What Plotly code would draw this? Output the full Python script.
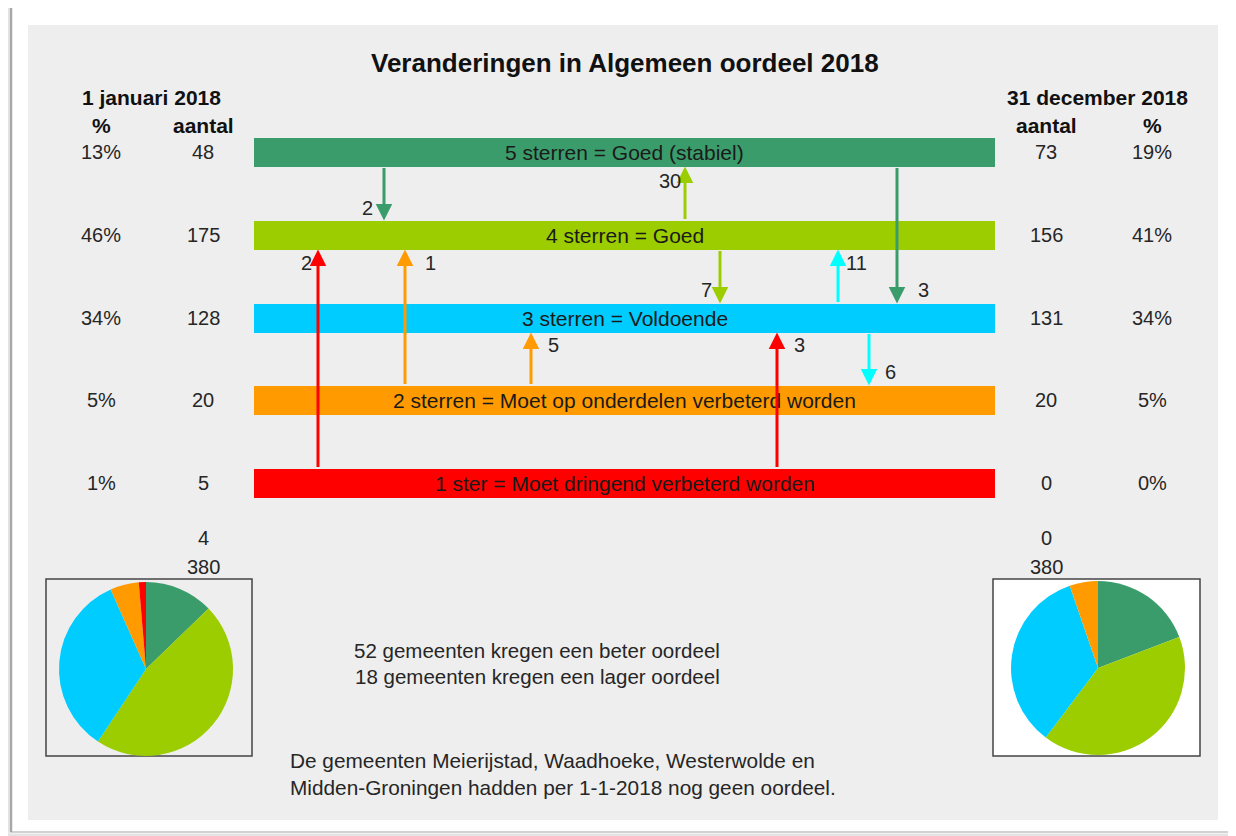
import plotly.graph_objects as go

# ---------------- data ----------------
levels = ["5 sterren = Goed (stabiel)", "4 sterren = Goed", "3 sterren = Voldoende",
          "2 sterren = Moet op onderdelen verbeterd worden", "1 ster = Moet dringend verbeterd worden"]
stars = [5, 4, 3, 2, 1]
start_count = [48, 175, 128, 20, 5]
start_pct = ["13%", "46%", "34%", "5%", "1%"]
end_count = [73, 156, 131, 20, 0]
end_pct = ["19%", "41%", "34%", "5%", "0%"]
start_none, end_none = 4, 0
start_total, end_total = 380, 380

flow_from = [5, 4, 1, 2, 4, 3, 5, 2, 1, 3]
flow_to = [4, 5, 4, 4, 3, 4, 3, 3, 3, 2]
flow_n = [2, 30, 2, 1, 7, 11, 3, 5, 3, 6]

summary = ["52 gemeenten kregen een beter oordeel", "18 gemeenten kregen een lager oordeel"]
note = ["De gemeenten Meierijstad, Waadhoeke, Westerwolde en",
        "Midden-Groningen hadden per 1-1-2018 nog geen oordeel."]

# ---------------- styles / layout ----------------
colors = {5: "#3A9C6B", 4: "#9BCD00", 3: "#00CCFF", 2: "#FF9B00", 1: "#FF0000"}
arrow_colors = {5: "#3A9C6B", 4: "#9BCD00", 3: "#00FFFF", 2: "#FF9B00", 1: "#FF0000"}
W, H = 1236, 836
OFF = 8  # default page body margin
FW, FH = W, H
FONT = "Liberation Sans, Arial, sans-serif"
TXT = "#262626"
level_y = {5: 152, 4: 235, 3: 318, 2: 400, 1: 483}
BAR_H = 29
BAR_X0, BAR_X1 = 254, 995
arrow_x = [384, 685, 318, 405, 720, 838, 897, 531, 777, 869]
label_xy = [(367, 208), (670, 181), (306, 263), (430, 263), (706, 290),
            (856, 263), (923, 290), (553, 345), (799, 345), (890, 372)]

fig = go.Figure()

# bars
fig.add_trace(go.Bar(
    y=[level_y[s] for s in stars], x=[BAR_X1 - BAR_X0] * 5, base=BAR_X0,
    orientation="h", width=BAR_H, marker=dict(color=[colors[s] for s in stars], line=dict(width=0)),
    hoverinfo="skip", showlegend=False))

ann = []
def txt(x, y, t, size=20, bold=False, color=TXT, xanchor="center"):
    ann.append(dict(x=x, y=y, xref="x", yref="y", text=f"<b>{t}</b>" if bold else t,
                    showarrow=False, xanchor=xanchor, yanchor="middle",
                    font=dict(family=FONT, size=size, color=color)))

for s, name in zip(stars, levels):
    txt((BAR_X0 + BAR_X1) / 2, level_y[s], name, size=21, color="#1a1a1a")

# flow arrows
for f, t, n, ax_, (lx, ly) in zip(flow_from, flow_to, flow_n, arrow_x, label_xy):
    if t > f:  # upward
        tail = level_y[f] - BAR_H / 2
        tip = level_y[t] + BAR_H / 2
    else:
        tail = level_y[f] + BAR_H / 2
        tip = level_y[t] - BAR_H / 2
    ann.append(dict(x=ax_, y=tip, ax=ax_, ay=tail, xref="x", yref="y", axref="x", ayref="y",
                    text="", showarrow=True, arrowhead=2, arrowsize=1.1, arrowwidth=3,
                    standoff=0, arrowcolor=arrow_colors[f]))
    txt(lx, ly, str(n), size=20)

# headers
txt(625, 63, "Veranderingen in Algemeen oordeel 2018", size=26, bold=True, color="#111")
txt(151, 97, "1 januari 2018", size=21, bold=True, color="#111")
txt(101, 125, "%", size=21, bold=True, color="#111")
txt(203, 125, "aantal", size=21, bold=True, color="#111")
txt(1097, 97, "31 december 2018", size=21, bold=True, color="#111")
txt(1046, 125, "aantal", size=21, bold=True, color="#111")
txt(1152, 125, "%", size=21, bold=True, color="#111")

for s, c, p, c2, p2 in zip(stars, start_count, start_pct, end_count, end_pct):
    y = level_y[s]
    txt(101, y, p)
    txt(203, y, str(c))
    txt(1046, y, str(c2))
    txt(1152, y, p2)

txt(203, 538, str(start_none))
txt(203, 567, str(start_total))
txt(1046, 538, str(end_none))
txt(1046, 567, str(end_total))

txt(537, 650, summary[0], size=20.5)
txt(537, 676, summary[1], size=20.5)
txt(288, 760, note[0], size=20.8, xanchor="left")
txt(288, 787, note[1], size=20.8, xanchor="left")

# pies (screen pixel -> paper fraction)
def pie_dom(cx, cy, r):
    return dict(x=[(cx - r - OFF) / FW, (cx + r - OFF) / FW],
                y=[(H + OFF - cy - r) / FH, (H + OFF - cy + r) / FH])

for vals, (cx, cy) in [(start_count, (146, 669)), (end_count, (1098, 668))]:
    fig.add_trace(go.Pie(values=vals, labels=levels, sort=False, direction="clockwise", rotation=0,
                         marker=dict(colors=[colors[s] for s in stars], line=dict(width=0)),
                         textinfo="none", hoverinfo="label+value", showlegend=False,
                         domain=pie_dom(cx, cy, 87)))

shapes = [
    # card shadow + border
    dict(type="rect", xref="x", yref="y", x0=8, y0=4, x1=1233, y1=835, line=dict(color="#e4e4e4", width=3),
         fillcolor="white", layer="below"),
    dict(type="rect", xref="x", yref="y", x0=11, y0=6, x1=1230, y1=832, line=dict(color="#c4c4c4", width=1.5),
         fillcolor="white", layer="below"),
    dict(type="line", xref="x", yref="y", x0=11, y0=8, x1=11, y1=832, line=dict(color="#a8a8a8", width=2.5),
         layer="below"),
    # grey panel
    dict(type="rect", xref="x", yref="y", x0=28, y0=25, x1=1218, y1=820, line=dict(width=0),
         fillcolor="#EEEEEE", layer="below"),
    # pie boxes
    dict(type="rect", xref="x", yref="y", x0=46, y0=579, x1=252, y1=756, line=dict(color="#444", width=1.5),
         fillcolor="#EEEEEE", layer="below"),
    dict(type="rect", xref="x", yref="y", x0=993, y0=579, x1=1200, y1=756, line=dict(color="#444", width=1.5),
         fillcolor="white", layer="below"),
]

fig.update_layout(
    width=FW, height=FH, margin=dict(l=0, r=0, t=0, b=0),
    paper_bgcolor="white", plot_bgcolor="rgba(0,0,0,0)",
    xaxis=dict(range=[OFF, W + OFF], visible=False, fixedrange=True),
    yaxis=dict(range=[H + OFF, OFF], visible=False, fixedrange=True),
    annotations=ann, shapes=shapes, bargap=0, showlegend=False,
)

fig.write_html("out.html")
